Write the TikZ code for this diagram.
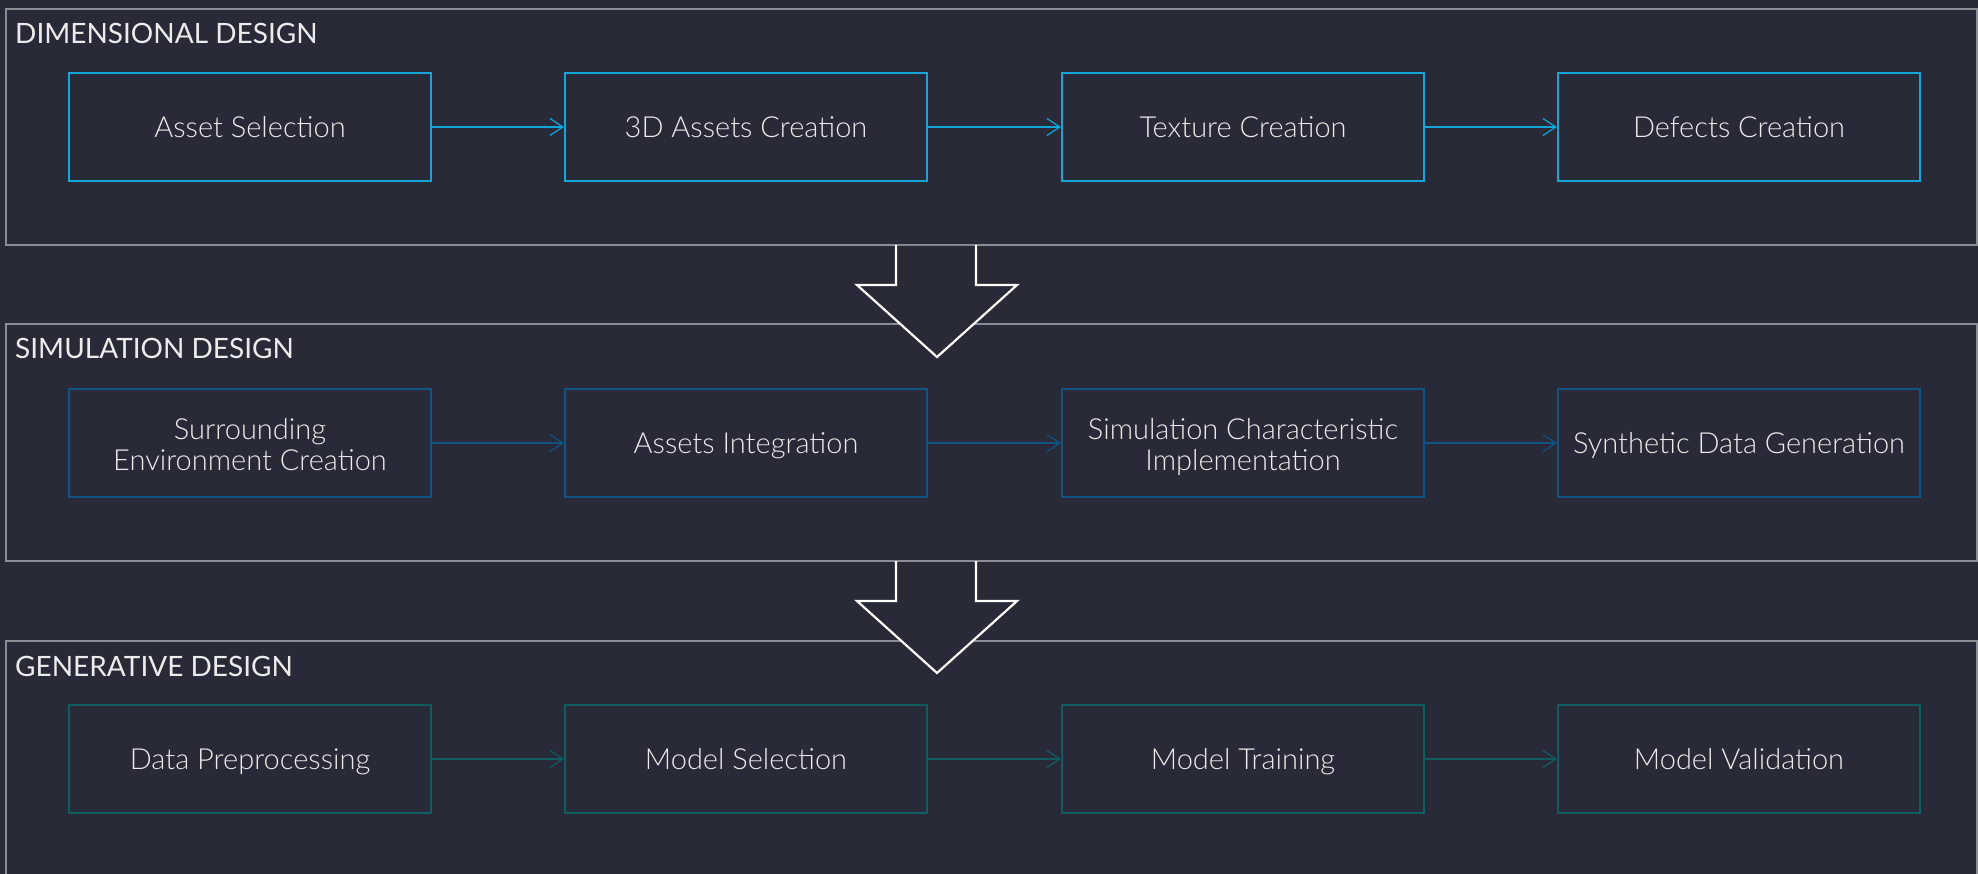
\documentclass[tikz,border=0pt]{standalone}
\usepackage{fontspec}
\setmainfont{Lato}[UprightFont=* Light, BoldFont=*]
\usetikzlibrary{arrows.meta}
\definecolor{bgc}{HTML}{282A37}
\definecolor{framec}{HTML}{8B8D95}
\definecolor{txtc}{HTML}{ECECEE}
\definecolor{rowa}{HTML}{14A6D9}
\definecolor{rowb}{HTML}{0F5283}
\definecolor{rowc}{HTML}{105D60}
\newcommand{\topstrut}{\rule{0pt}{31pt}}
\newcommand{\botstrut}{\rule[-8pt]{0pt}{8pt}}
\tikzset{
  frame/.style={draw=framec, line width=2pt},
  title/.style={anchor=west, text=txtc, inner sep=0pt, font=\bfseries\fontsize{28}{32}\selectfont},
  stepbox/.style={draw, line width=2pt, fill=bgc, minimum width=362pt, minimum height=108pt, inner sep=0pt,
    text=txtc, align=center, font=\fontsize{29}{31}\selectfont, text height=21pt, text depth=0pt},
  twoline/.style={text height={}, text depth={}},
  flow/.style={line width=1.3pt, -{Straight Barb[length=13pt,width=17pt,line width=1.2pt]}},
  bigarrow/.style={draw=white, line width=2.2pt, line join=miter}
}
\begin{document}
\begin{tikzpicture}[x=1pt,y=-1pt]
\fill[bgc] (0,0) rectangle (1978,874);
\useasboundingbox (0,0) rectangle (1978,874);
% frames
\draw[frame] (6,9) rectangle (1977,245);
\draw[frame] (6,324) rectangle (1977,561);
\draw[frame] (6,641) rectangle (1977,890);
% titles
\node[title] (t1) at (15,33) {DIMENSIONAL DESIGN};
\node[title] (t2) at (15,348) {SIMULATION DESIGN};
\node[title] (t3) at (15,666) {GENERATIVE DESIGN};
% row 1
\begin{scope}[every node/.append style={draw=rowa}]
\node[stepbox] (a1) at (250,127) {Asset Selection};
\node[stepbox] (a2) at (746,127) {3D Assets Creation};
\node[stepbox] (a3) at (1243,127) {Texture Creation};
\node[stepbox] (a4) at (1739,127) {Defects Creation};
\end{scope}
\draw[flow, rowa] (a1) -- (a2);
\draw[flow, rowa] (a2) -- (a3);
\draw[flow, rowa] (a3) -- (a4);
% row 2
\begin{scope}[every node/.append style={draw=rowb}]
\node[stepbox, twoline] (b1) at (250,443) {\topstrut Surrounding\\Environment Creation\botstrut};
\node[stepbox] (b2) at (746,443) {Assets Integration};
\node[stepbox, twoline] (b3) at (1243,443) {\topstrut Simulation Characteristic\\Implementation\botstrut};
\node[stepbox] (b4) at (1739,443) {Synthetic Data Generation};
\end{scope}
\draw[flow, rowb] (b1) -- (b2);
\draw[flow, rowb] (b2) -- (b3);
\draw[flow, rowb] (b3) -- (b4);
% row 3
\begin{scope}[every node/.append style={draw=rowc}]
\node[stepbox] (c1) at (250,759) {Data Preprocessing};
\node[stepbox] (c2) at (746,759) {Model Selection};
\node[stepbox] (c3) at (1243,759) {Model Training};
\node[stepbox] (c4) at (1739,759) {Model Validation};
\end{scope}
\draw[flow, rowc] (c1) -- (c2);
\draw[flow, rowc] (c2) -- (c3);
\draw[flow, rowc] (c3) -- (c4);
% big arrows
\foreach \yy in {0,316}{
  \fill[bgc] (896,246+\yy) -- (896,285+\yy) -- (857,285+\yy) -- (937,357+\yy) -- (1017,285+\yy) -- (976,285+\yy) -- (976,246+\yy) -- cycle;
  \draw[bigarrow] (896,245+\yy) -- (896,285+\yy) -- (857,285+\yy) -- (937,357+\yy) -- (1017,285+\yy) -- (976,285+\yy) -- (976,245+\yy);
}
\end{tikzpicture}
\end{document}
